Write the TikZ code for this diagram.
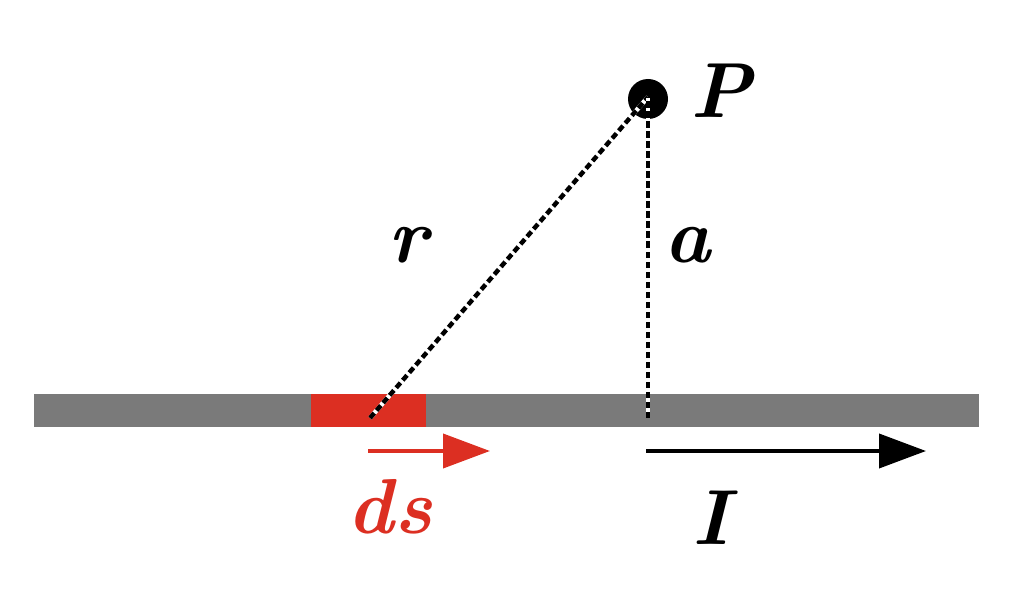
\documentclass[tikz,border=0pt]{standalone}
\usepackage{fontspec}
\usetikzlibrary{arrows.meta}
\definecolor{bargray}{HTML}{7A7A7A}
\definecolor{dsred}{HTML}{DC2F22}
\begin{document}
\begin{tikzpicture}[x=1pt,y=-1pt,
  lbl/.style={inner sep=0pt, anchor=base, font=\fontsize{78}{90}\selectfont\bfseries\itshape},
  stripewhite/.style={white, line width=4.5pt},
  stripeblack/.style={black, line width=4.5pt, dash pattern=on 6.5pt off 3.5pt},
  arr/.style={line width=4pt, -{Triangle[length=47pt,width=34pt]}}]
\useasboundingbox (0,0) rectangle (1028,596);
% wire
\fill[bargray] (34,394) rectangle (979,427);
\fill[dsred] (311,394) rectangle (426,427);
% point P
\node[circle, fill=black, inner sep=0pt, minimum size=40pt] (P) at (648,99) {};
\coordinate (dsend) at (370,418);
\coordinate (foot) at (648,418);
\coordinate (Ptop) at (648,97);
% dashed lines
\draw[stripewhite] (dsend) -- (Ptop);
\draw[stripeblack] (dsend) -- (Ptop);
\draw[stripewhite] (foot) -- (Ptop);
\draw[stripeblack] (foot) -- (Ptop);
% arrows
\coordinate (dsa) at (368,451);
\coordinate (dsb) at (490,451);
\draw[arr, dsred] (dsa) -- (dsb);
\coordinate (Ia) at (646,451);
\coordinate (Ib) at (926,451);
\draw[arr, black] (Ia) -- (Ib);
% labels
\node[lbl] (Plbl) at (721,118) {P};
\node[lbl] (rlbl) at (408,262) {r};
\node[lbl] (albl) at (688,262) {a};
\node[lbl, text=dsred] (dslbl) at (390,533) {ds};
\node[lbl] (Ilbl) at (711,544) {I};
\end{tikzpicture}
\end{document}
